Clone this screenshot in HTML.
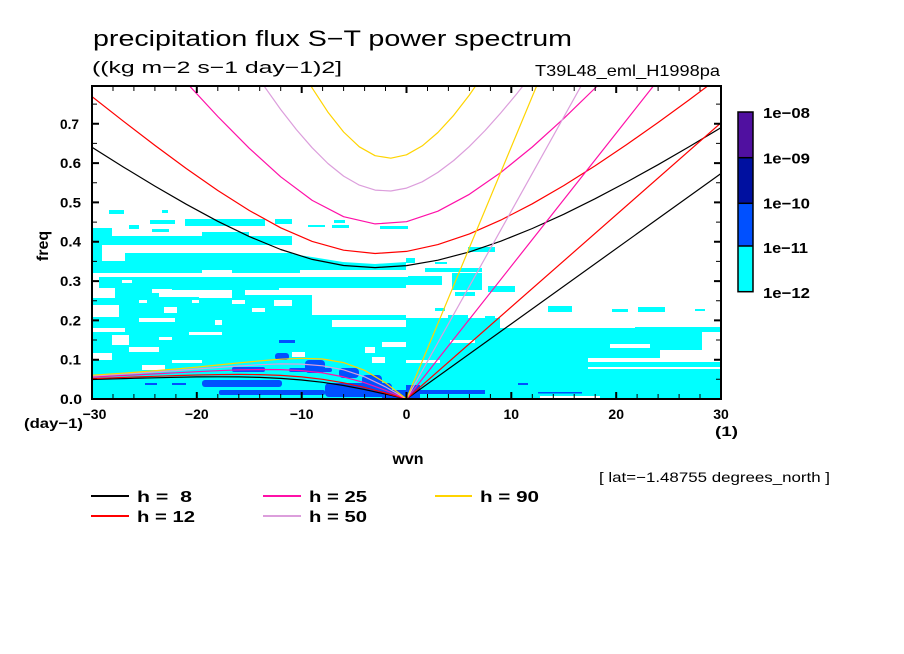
<!DOCTYPE html>
<html><head><meta charset="utf-8"><style>
html,body{margin:0;padding:0;background:#fff;}
svg{display:block;}
text{font-family:"Liberation Sans",sans-serif;fill:#000;}
</style></head><body>
<svg width="904" height="654" viewBox="0 0 904 654" xmlns="http://www.w3.org/2000/svg">
<defs><clipPath id="pc"><rect x="92" y="86" width="629" height="313"/></clipPath></defs>
<rect x="0" y="0" width="904" height="654" fill="#fff"/>

<g clip-path="url(#pc)">
<!-- cyan shading -->
<g fill="#00ffff">
<rect x="109" y="210" width="15" height="4"/>
<rect x="162" y="210" width="6" height="3"/>
<rect x="150" y="220" width="25" height="4"/>
<rect x="185" y="219" width="80" height="7"/>
<rect x="275" y="219" width="17" height="5"/>
<rect x="334" y="220" width="11" height="3"/>
<rect x="308" y="225" width="17" height="2"/>
<rect x="380" y="226" width="28" height="3"/>
<rect x="129" y="225" width="10" height="4"/>
<rect x="152" y="229" width="17" height="3"/>
<rect x="332" y="225" width="17" height="3"/>
<rect x="92" y="228" width="20" height="10"/>
<rect x="202" y="232" width="47" height="6"/>
<rect x="92" y="236" width="200" height="9"/>
<rect x="92" y="245" width="10" height="10"/>
<rect x="92" y="253" width="314" height="146"/>
<!-- right -->
<rect x="468" y="247" width="27" height="5"/>
<rect x="405" y="258" width="10" height="5"/>
<rect x="435" y="262" width="12" height="2"/>
<rect x="425" y="268" width="57" height="4"/>
<rect x="405" y="276" width="37" height="9"/>
<rect x="452" y="273" width="30" height="17"/>
<rect x="488" y="286" width="27" height="6"/>
<rect x="455" y="292" width="20" height="4"/>
<rect x="435" y="308" width="10" height="3"/>
<rect x="448" y="315" width="20" height="5"/>
<rect x="485" y="316" width="10" height="5"/>
<rect x="548" y="306" width="24" height="6"/>
<rect x="612" y="309" width="16" height="3"/>
<rect x="638" y="307" width="27" height="5"/>
<rect x="695" y="309" width="10" height="2"/>
<rect x="406" y="318" width="94" height="12"/>
<rect x="406" y="328" width="234" height="7"/>
<rect x="635" y="327" width="86" height="5"/>
<rect x="406" y="332" width="296" height="18"/>
<rect x="406" y="350" width="254" height="8"/>
<rect x="406" y="358" width="182" height="4"/>
<rect x="406" y="362" width="315" height="37"/>
</g>
<!-- white holes -->
<g fill="#ffffff">
<rect x="102" y="253" width="23" height="8"/>
<polygon points="292,253 406,253 406,262 375,264 343,262 312,257 292,254"/>
<rect x="202" y="270" width="30" height="3"/>
<rect x="300" y="270" width="106" height="3"/>
<rect x="92" y="273" width="316" height="4"/>
<rect x="92" y="277" width="7" height="13"/>
<rect x="122" y="280" width="10" height="3"/>
<rect x="92" y="288" width="23" height="10"/>
<rect x="152" y="289" width="20" height="4"/>
<rect x="159" y="290" width="40" height="7"/>
<rect x="199" y="290" width="33" height="8"/>
<rect x="245" y="290" width="34" height="5"/>
<rect x="279" y="288" width="33" height="7"/>
<rect x="312" y="288" width="94" height="27"/>
<rect x="92" y="305" width="27" height="12"/>
<rect x="139" y="300" width="8" height="3"/>
<rect x="164" y="307" width="13" height="6"/>
<rect x="192" y="300" width="7" height="3"/>
<rect x="215" y="320" width="7" height="5"/>
<rect x="232" y="300" width="13" height="4"/>
<rect x="252" y="308" width="13" height="4"/>
<rect x="274" y="300" width="18" height="6"/>
<rect x="332" y="320" width="74" height="7"/>
<rect x="92" y="328" width="33" height="4"/>
<rect x="139" y="318" width="36" height="4"/>
<rect x="189" y="332" width="33" height="3"/>
<rect x="112" y="335" width="17" height="10"/>
<rect x="159" y="337" width="13" height="3"/>
<rect x="382" y="342" width="24" height="5"/>
<rect x="129" y="347" width="30" height="5"/>
<rect x="92" y="353" width="20" height="7"/>
<rect x="172" y="360" width="30" height="3"/>
<rect x="292" y="352" width="13" height="5"/>
<rect x="365" y="347" width="10" height="6"/>
<rect x="372" y="357" width="13" height="6"/>
<rect x="142" y="365" width="23" height="5"/>
<rect x="406" y="360" width="34" height="3"/>
<rect x="588" y="367" width="133" height="2"/>
<rect x="610" y="344" width="40" height="4"/>
<rect x="450" y="340" width="25" height="3"/>
<rect x="540" y="396" width="60" height="3"/>
</g>
<!-- blue -->
<g fill="#0050ff">
<rect x="275" y="353" width="14" height="7" rx="3"/>
<rect x="305" y="360" width="20" height="13" rx="4"/>
<rect x="232" y="367" width="33" height="5" rx="2"/>
<rect x="289" y="368" width="43" height="4" rx="2"/>
<rect x="339" y="368" width="20" height="10" rx="4"/>
<rect x="362" y="375" width="20" height="13" rx="4"/>
<rect x="202" y="380" width="80" height="7" rx="3"/>
<rect x="219" y="390" width="106" height="5" rx="2"/>
<rect x="325" y="383" width="67" height="14" rx="4"/>
<rect x="382" y="390" width="24" height="9"/>
<rect x="279" y="340" width="16" height="3"/>
<rect x="145" y="383" width="12" height="2"/>
<rect x="172" y="383" width="14" height="2"/>
<rect x="406" y="385" width="14" height="14"/>
<rect x="415" y="390" width="70" height="4"/>
<rect x="538" y="392" width="44" height="1.5"/>
<rect x="518" y="383" width="10" height="2"/>
</g>

<!-- dispersion curves -->
<g fill="none" stroke-width="1.2" stroke-linejoin="round">
<g stroke="#000000">
<polyline points="92,147.3 123.5,167.1 154.9,186.1 186.4,204.3 217.8,221.3 249.3,236.6 280.7,249.5 312.2,259.4 343.6,265.5 375.1,267.6 406.5,265.6 437.9,260.2 469.4,251.9 500.8,241.2 532.3,228.5 563.7,214.3 595.2,198.7 626.6,182.1 658.1,164.7 689.5,146.5 721,127.7"/>
<polyline points="92,379.5 113,378.9 133.9,378.3 154.9,377.8 175.9,377.3 196.8,376.9 217.8,376.8 238.8,376.9 259.7,377.4 280.7,378.4 301.7,380 322.6,382.3 343.6,385.5 364.6,389.5 385.5,394.1 406.5,399"/>
<line x1="406.5" y1="399" x2="721" y2="173.5"/>
</g>
<g stroke="#ff0000">
<polyline points="92,96.6 123.5,121.3 154.9,145.4 186.4,168.6 217.8,190.5 249.3,210.5 280.7,227.8 312.2,241.4 343.6,250.2 375.1,253.5 406.5,251.4 437.9,244.6 469.4,233.9 500.8,220.1 532.3,203.8 563.7,185.6 595.2,165.7 626.6,144.6 658.1,122.5 689.5,99.6 721,76"/>
<polyline points="92,378.6 113,377.8 133.9,377 154.9,376.3 175.9,375.6 196.8,375 217.8,374.6 238.8,374.4 259.7,374.6 280.7,375.4 301.7,376.9 322.6,379.3 343.6,382.8 364.6,387.4 385.5,393 406.5,399"/>
<line x1="406.5" y1="399" x2="721" y2="122.8"/>
</g>
<g stroke="#ff10a8">
<polyline points="186.4,82.6 217.8,116.5 249.3,148.3 280.7,176.8 312.2,200.4 343.6,216.7 375.1,223.9 406.5,221.7 437.9,211.2 469.4,194.3 500.8,172.5 532.3,147 563.7,118.6 595.2,88 626.6,57.7"/>
<polyline points="92,377.1 113,376 133.9,375 154.9,373.9 175.9,372.8 196.8,371.7 217.8,370.7 238.8,369.9 259.7,369.5 280.7,369.6 301.7,370.6 322.6,372.9 343.6,376.9 364.6,382.7 385.5,390.3 406.5,399"/>
<line x1="406.5" y1="399" x2="721" y2="0.3"/>
</g>
<g stroke="#dc9edc">
<polyline points="249.3,65.2 280.7,109.5 296.4,129.6 312.2,147.8 327.9,163.5 343.6,176.1 359.3,185.1 375.1,190.1 390.8,191 406.5,188.1 422.2,181.8 437.9,172.4 453.7,160.5 469.4,146.4 485.1,130.5 500.8,112.9 516.6,94 532.3,74"/>
<polyline points="92,375.9 113,374.7 133.9,373.4 154.9,372 175.9,370.6 196.8,369 217.8,367.5 238.8,366 259.7,364.7 280.7,363.9 301.7,364.1 322.6,365.8 343.6,369.8 364.6,376.8 385.5,386.9 406.5,399"/>
<line x1="406.5" y1="399" x2="721" y2="-164.9"/>
</g>
<g stroke="#ffd400">
<polyline points="280.7,31.8 312.2,88.1 327.9,112.1 343.6,132 359.3,146.8 375.1,155.7 390.8,158.2 406.5,154.8 422.2,145.9 437.9,132.5 453.7,115.3 469.4,95 485.1,72 500.8,46.9"/>
<polyline points="92,375.2 113,373.8 133.9,372.4 154.9,370.7 175.9,369 196.8,367.1 217.8,365 238.8,362.9 259.7,360.9 280.7,359.2 301.7,358.3 322.6,359 343.6,362.6 364.6,370.3 385.5,382.9 406.5,399"/>
<line x1="406.5" y1="399" x2="721" y2="-357.5"/>
</g>
</g>
</g>

<!-- ticks -->
<g stroke="#000" fill="none">
<path stroke-width="2" d="M92,359.7h7M92,320.4h7M92,281.1h7M92,241.7h7M92,202.4h7M92,163.1h7M92,123.8h7
M721,359.7h-7M721,320.4h-7M721,281.1h-7M721,241.7h-7M721,202.4h-7M721,163.1h-7M721,123.8h-7
M196.8,399v-7M301.7,399v-7M406.5,399v-7M511.3,399v-7M616.2,399v-7
M196.8,86v7M301.7,86v7M406.5,86v7M511.3,86v7M616.2,86v7"/>
<path stroke-width="1" d="M92,379.3h5M92,340h5M92,300.7h5M92,261.4h5M92,222.1h5M92,182.7h5M92,143.4h5M92,104.1h5
M721,379.3h-5M721,340h-5M721,300.7h-5M721,261.4h-5M721,222.1h-5M721,182.7h-5M721,143.4h-5M721,104.1h-5
M113,399v-5M133.9,399v-5M154.9,399v-5M175.9,399v-5M217.8,399v-5M238.8,399v-5M259.7,399v-5M280.7,399v-5M322.6,399v-5M343.6,399v-5M364.6,399v-5M385.5,399v-5M427.5,399v-5M448.4,399v-5M469.4,399v-5M490.4,399v-5M532.3,399v-5M553.3,399v-5M574.2,399v-5M595.2,399v-5M637.1,399v-5M658.1,399v-5M679.1,399v-5M700,399v-5
M113,86v5M133.9,86v5M154.9,86v5M175.9,86v5M217.8,86v5M238.8,86v5M259.7,86v5M280.7,86v5M322.6,86v5M343.6,86v5M364.6,86v5M385.5,86v5M427.5,86v5M448.4,86v5M469.4,86v5M490.4,86v5M532.3,86v5M553.3,86v5M574.2,86v5M595.2,86v5M637.1,86v5M658.1,86v5M679.1,86v5M700,86v5"/>
<rect x="92" y="86" width="629" height="313" stroke-width="2"/>
</g>

<!-- titles -->
<text x="93" y="46" font-size="22" textLength="479" lengthAdjust="spacingAndGlyphs">precipitation flux S−T power spectrum</text>
<text x="92" y="73" font-size="17" textLength="250" lengthAdjust="spacingAndGlyphs">((kg m−2 s−1 day−1)2]</text>
<text x="535" y="76" font-size="16" textLength="185" lengthAdjust="spacingAndGlyphs">T39L48_eml_H1998pa</text>

<!-- y labels -->
<g font-size="14" font-weight="bold">
<text x="60" y="404" textLength="22" lengthAdjust="spacingAndGlyphs">0.0</text>
<text x="60" y="364.7" textLength="21" lengthAdjust="spacingAndGlyphs">0.1</text>
<text x="60" y="325.4" textLength="21" lengthAdjust="spacingAndGlyphs">0.2</text>
<text x="60" y="286" textLength="21" lengthAdjust="spacingAndGlyphs">0.3</text>
<text x="60" y="246.7" textLength="21" lengthAdjust="spacingAndGlyphs">0.4</text>
<text x="60" y="207.4" textLength="21" lengthAdjust="spacingAndGlyphs">0.5</text>
<text x="60" y="168.1" textLength="21" lengthAdjust="spacingAndGlyphs">0.6</text>
<text x="60" y="128.8" textLength="19" lengthAdjust="spacingAndGlyphs">0.7</text>
</g>
<!-- x labels -->
<g font-size="14" font-weight="bold" text-anchor="middle">
<text x="94.5" y="419">−30</text>
<text x="196.8" y="419">−20</text>
<text x="301.7" y="419">−10</text>
<text x="406.5" y="419">0</text>
<text x="511.3" y="419">10</text>
<text x="616.2" y="419">20</text>
<text x="721" y="419">30</text>
</g>
<text x="24" y="428" font-size="14" font-weight="bold" textLength="59" lengthAdjust="spacingAndGlyphs">(day−1)</text>
<text x="715" y="436" font-size="14" font-weight="bold" textLength="23" lengthAdjust="spacingAndGlyphs">(1)</text>
<text x="408" y="464" font-size="16" font-weight="bold" text-anchor="middle">wvn</text>
<text transform="translate(48,246) rotate(-90)" font-size="16" font-weight="bold" text-anchor="middle">freq</text>
<text x="599" y="482" font-size="14" textLength="231" lengthAdjust="spacingAndGlyphs">[ lat=−1.48755 degrees_north ]</text>

<!-- legend -->
<g stroke-width="2">
<line x1="91" y1="496" x2="129" y2="496" stroke="#000000"/>
<line x1="91" y1="516" x2="129" y2="516" stroke="#ff0000"/>
<line x1="263" y1="496" x2="301" y2="496" stroke="#ff10a8"/>
<line x1="263" y1="516" x2="301" y2="516" stroke="#dc9edc"/>
<line x1="435" y1="496" x2="472" y2="496" stroke="#ffd400"/>
</g>
<g font-size="16" font-weight="bold">
<text x="137" y="502" textLength="55" lengthAdjust="spacingAndGlyphs" xml:space="preserve">h =  8</text>
<text x="137" y="522" textLength="58" lengthAdjust="spacingAndGlyphs">h = 12</text>
<text x="309" y="502" textLength="58" lengthAdjust="spacingAndGlyphs">h = 25</text>
<text x="309" y="522" textLength="58" lengthAdjust="spacingAndGlyphs">h = 50</text>
<text x="480" y="502" textLength="59" lengthAdjust="spacingAndGlyphs">h = 90</text>
</g>

<!-- colorbar -->
<rect x="738" y="112" width="15" height="45.7" fill="#5010a0"/>
<rect x="738" y="157.7" width="15" height="45.6" fill="#0010a0"/>
<rect x="738" y="203.3" width="15" height="42.7" fill="#0050ff"/>
<rect x="738" y="246" width="15" height="45.7" fill="#00ffff"/>
<g stroke="#000" stroke-width="1.5" fill="none">
<rect x="738" y="112" width="15" height="179.7"/>
<line x1="738" y1="157.7" x2="753" y2="157.7"/>
<line x1="738" y1="203.3" x2="753" y2="203.3"/>
<line x1="738" y1="246" x2="753" y2="246"/>
</g>
<g font-size="15" font-weight="bold">
<text x="763" y="118" textLength="47" lengthAdjust="spacingAndGlyphs">1e−08</text>
<text x="763" y="163.5" textLength="47" lengthAdjust="spacingAndGlyphs">1e−09</text>
<text x="763" y="208.5" textLength="47" lengthAdjust="spacingAndGlyphs">1e−10</text>
<text x="763" y="253" textLength="45" lengthAdjust="spacingAndGlyphs">1e−11</text>
<text x="763" y="298" textLength="47" lengthAdjust="spacingAndGlyphs">1e−12</text>
</g>
</svg>
</body></html>
